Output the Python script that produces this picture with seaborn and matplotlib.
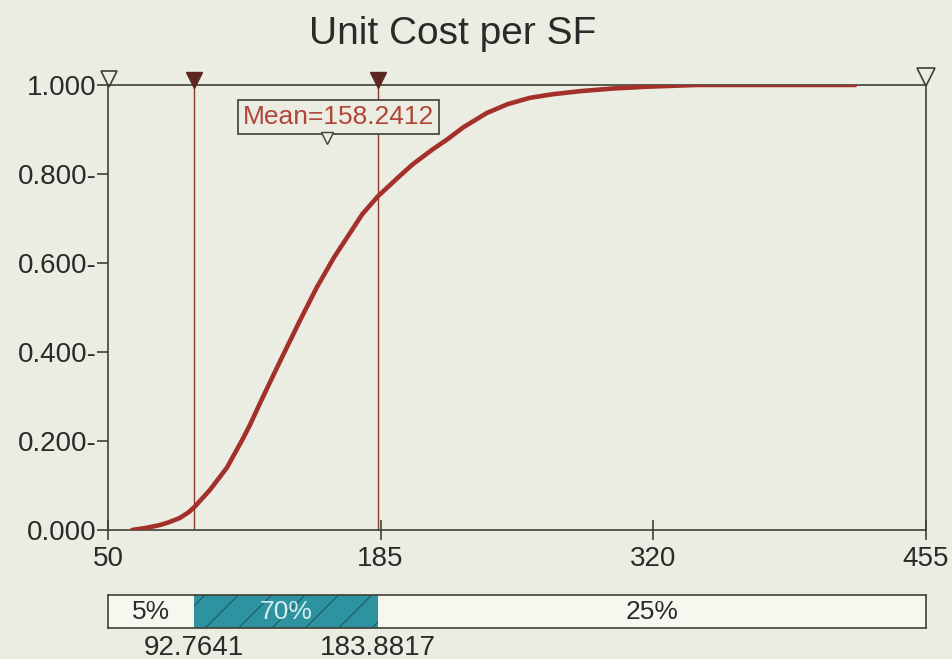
import matplotlib
matplotlib.use("Agg")
import matplotlib.pyplot as plt
import matplotlib.transforms as mtransforms
import numpy as np
import pandas as pd
import seaborn as sns

# values
unit_cost = [62, 68, 75.7, 80, 85.6, 90, 93.1, 100.5, 108.9, 116.8, 120.3, 125.2, 131.7,
             136.6, 145, 153.5, 162, 169.8, 176, 183.7, 194.6, 201, 211, 217.8, 226, 237.6,
             248, 258.9, 270, 283.7, 300, 316.8, 341.6, 420]
cum_prob = [0.0, 0.004, 0.011, 0.017, 0.027, 0.04, 0.053, 0.09, 0.14, 0.205, 0.236, 0.284,
            0.346, 0.392, 0.47, 0.546, 0.613, 0.667, 0.71, 0.75, 0.796, 0.822, 0.856, 0.877,
            0.905, 0.937, 0.957, 0.971, 0.979, 0.986, 0.992, 0.996, 1.0, 1.0]

x_ticks = [50, 185, 320, 455]
y_ticks = [0.0, 0.2, 0.4, 0.6, 0.8, 1.0]
y_tick_labels = ["0.000", "0.200-", "0.400-", "0.600-", "0.800-", "1.000"]

mean_value = 158.2412
pct_bounds = [92.7641, 183.8817]
pct_labels = ["5%", "70%", "25%"]
title = "Unit Cost per SF"

bg = "#ecede2"
frame = "#3c4234"
curve_col = "#a3302a"
marker_col = "#5e2620"

sns.set_theme(style="white")
plt.rcParams['font.family'] = ['Liberation Sans', 'DejaVu Sans']
plt.rcParams["hatch.color"] = "#1d5862"
plt.rcParams["hatch.linewidth"] = 0.8

fig = plt.figure(figsize=(9.52, 6.59), dpi=100, facecolor=bg)
ax = fig.add_axes([0.1134, 0.1958, 0.8592, 0.6753], facecolor=bg)

df = pd.DataFrame({"cost": unit_cost, "prob": cum_prob})
sns.lineplot(data=df, x="cost", y="prob", ax=ax, color=curve_col, lw=3.3, zorder=3)

x_min, x_max = x_ticks[0], x_ticks[-1]
ax.set_xlim(x_min, x_max)
ax.set_ylim(0, 1)
ax.set_xlabel("")
ax.set_ylabel("")

# frame around the plot
for side in ["left", "bottom", "top", "right"]:
    ax.spines[side].set_color(frame)
    ax.spines[side].set_linewidth(1.2)

ax.set_xticks(x_ticks)
ax.set_xticklabels([str(t) for t in x_ticks])
ax.set_yticks(y_ticks)
ax.set_yticklabels(y_tick_labels)
ax.tick_params(axis="x", direction="inout", length=15, width=1.2, color=frame,
               labelsize=20, labelcolor="#2a2a2a", pad=4, bottom=True)
ax.tick_params(axis="y", direction="out", length=8, width=1.2, color=frame,
               labelsize=20, labelcolor="#2a2a2a", pad=0, left=True)


def shifted(dx, dy):
    # data transform moved by some pixels
    return ax.transData + mtransforms.Affine2D().translate(dx, dy)


# percentile lines with markers on top
for b in pct_bounds:
    ax.axvline(b, color="#8b3a30", lw=1.0, zorder=2)
ax.plot(pct_bounds, [1.0, 1.0], ls="none", marker="v", ms=11, color=marker_col,
        clip_on=False, zorder=5, transform=shifted(0, 5))
ax.plot([x_min], [1.0], ls="none", marker="v", ms=12, mfc="none", mec=frame, mew=1.2,
        clip_on=False, zorder=5, transform=shifted(1, 6))
ax.plot([x_max], [1.0], ls="none", marker="v", ms=13, mfc="none", mec=frame, mew=1.2,
        clip_on=False, zorder=5, transform=shifted(0, 8))

# mean label
ax.annotate("Mean=%.4f" % mean_value, xy=(mean_value, 1.0), xycoords="data",
            xytext=(12, -32), textcoords="offset pixels", ha="center", va="center",
            fontsize=19, color="#b0463a",
            bbox=dict(boxstyle="square,pad=0.2", fc=bg, ec=frame, lw=1.2), zorder=6)
ax.plot([mean_value], [1.0], ls="none", marker="v", ms=8, mfc=bg, mec=frame, mew=1.0,
        clip_on=False, zorder=7, transform=shifted(0, -53))

fig.suptitle(title, x=0.475, y=0.975, fontsize=28, color="#2a2a2a")

# percentile bar underneath
bx = fig.add_axes([0.1134, 0.047, 0.8592, 0.0501], facecolor="#f7f7f0")
edges = [x_min] + pct_bounds + [x_max]
colors = ["#f7f7f0", "#2e93a0", "#f7f7f0"]
for i, lab in enumerate(pct_labels):
    left, right = edges[i], edges[i + 1]
    bx.barh(0.5, right - left, left=left, height=1.0, color=colors[i],
            hatch="/" if i == 1 else None, edgecolor="#1d5862" if i == 1 else colors[i], lw=0)
    bx.text((left + right) / 2, 0.5, lab, ha="center", va="center", fontsize=19,
            color="#d6ecee" if i == 1 else "#2a2a2a")
bx.set_xlim(x_min, x_max)
bx.set_ylim(0, 1)
bx.set_xticks([])
bx.set_yticks([])
for side in ["left", "bottom", "top", "right"]:
    bx.spines[side].set_color(frame)
    bx.spines[side].set_linewidth(1.2)

for b in pct_bounds:
    bx.text(b, -0.2, "%.4f" % b, ha="center", va="top", fontsize=20, color="#2a2a2a")

fig.savefig("out.png", dpi=100, facecolor=bg)
